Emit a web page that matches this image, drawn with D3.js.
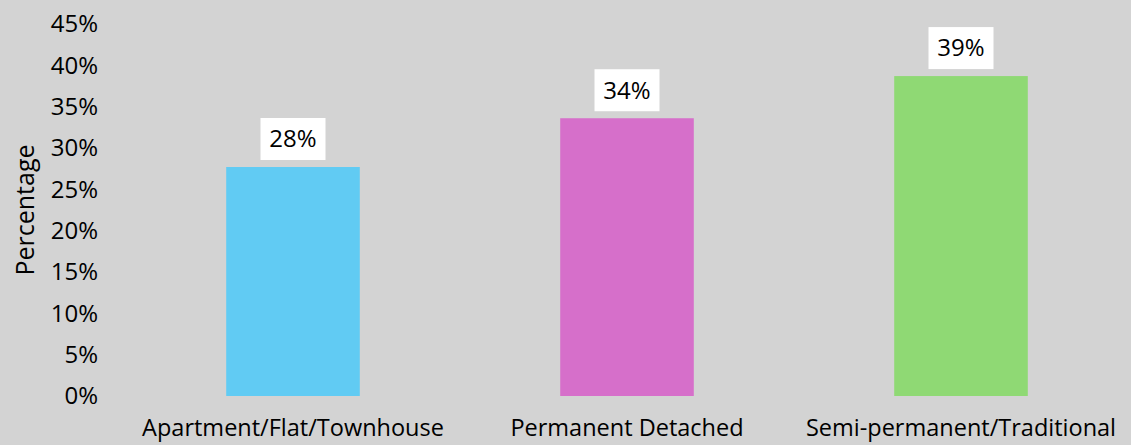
<!DOCTYPE html>
<html>
<head>
<meta charset="utf-8">
<script src="https://cdn.jsdelivr.net/npm/d3@7"></script>
<style>
  html, body { margin: 0; padding: 0; background: #d3d3d3; }
  svg { display: block; }
  text { font-family: "Open Sans", sans-serif; fill: #000; }
</style>
</head>
<body>
<svg id="chart" width="1131" height="445"></svg>
<script>
const categories = ["Apartment/Flat/Townhouse", "Permanent Detached", "Semi-permanent/Traditional"];
const values = [27.7, 33.6, 38.7];
const valueLabels = ["28%", "34%", "39%"];
const colors = ["#61cbf3", "#d66fca", "#8fd974"];
const yTicks = [0, 5, 10, 15, 20, 25, 30, 35, 40, 45];

const W = 1131, H = 445;
const margin = { left: 126, right: 3, top: 24, bottom: 49 };
const svg = d3.select("#chart");
svg.append("rect").attr("width", W).attr("height", H).attr("fill", "#d3d3d3");

const x = d3.scaleBand().domain(categories)
  .range([margin.left, W - margin.right]).paddingInner(0.6).paddingOuter(0.3);
const y = d3.scaleLinear().domain([0, 45]).range([H - margin.bottom, margin.top]);

// y axis
const yAxis = svg.append("g")
  .attr("transform", `translate(${margin.left},0)`)
  .call(d3.axisLeft(y).tickValues(yTicks).tickFormat(d => d + "%").tickSize(0).tickPadding(28));
yAxis.select(".domain").remove();
yAxis.selectAll("text").style("font-size", "24px").style("font-family", "'Open Sans', sans-serif").attr("fill", "#000");

// x axis
const xAxis = svg.append("g")
  .attr("transform", `translate(0,${y(0)})`)
  .call(d3.axisBottom(x).tickSize(0).tickPadding(23));
xAxis.select(".domain").remove();
xAxis.selectAll("text").style("font-size", "23.5px").style("font-family", "'Open Sans', sans-serif").attr("fill", "#000");

// bars
svg.append("g").selectAll("rect").data(categories).join("rect")
  .attr("x", d => x(d))
  .attr("width", x.bandwidth())
  .attr("y", (d, i) => y(values[i]))
  .attr("height", (d, i) => y(0) - y(values[i]))
  .attr("fill", (d, i) => colors[i]);

// value labels
const boxW = 65, boxH = 42, gap = 7;
const lbl = svg.append("g").selectAll("g").data(categories).join("g")
  .attr("transform", (d, i) => `translate(${x(d) + x.bandwidth() / 2},${y(values[i]) - gap - boxH})`);
lbl.append("rect")
  .attr("x", -boxW / 2).attr("y", 0).attr("width", boxW).attr("height", boxH)
  .attr("fill", "#ffffff");
lbl.append("text")
  .attr("x", 0).attr("y", boxH / 2).attr("dy", "0.35em")
  .attr("text-anchor", "middle")
  .style("font-size", "24px")
  .text((d, i) => valueLabels[i]);

// y axis title
svg.append("text")
  .attr("transform", `translate(25,${(y(0) + y(45)) / 2}) rotate(-90)`)
  .attr("text-anchor", "middle").attr("dy", "0.35em")
  .style("font-size", "25px")
  .text("Percentage");
</script>
</body>
</html>
